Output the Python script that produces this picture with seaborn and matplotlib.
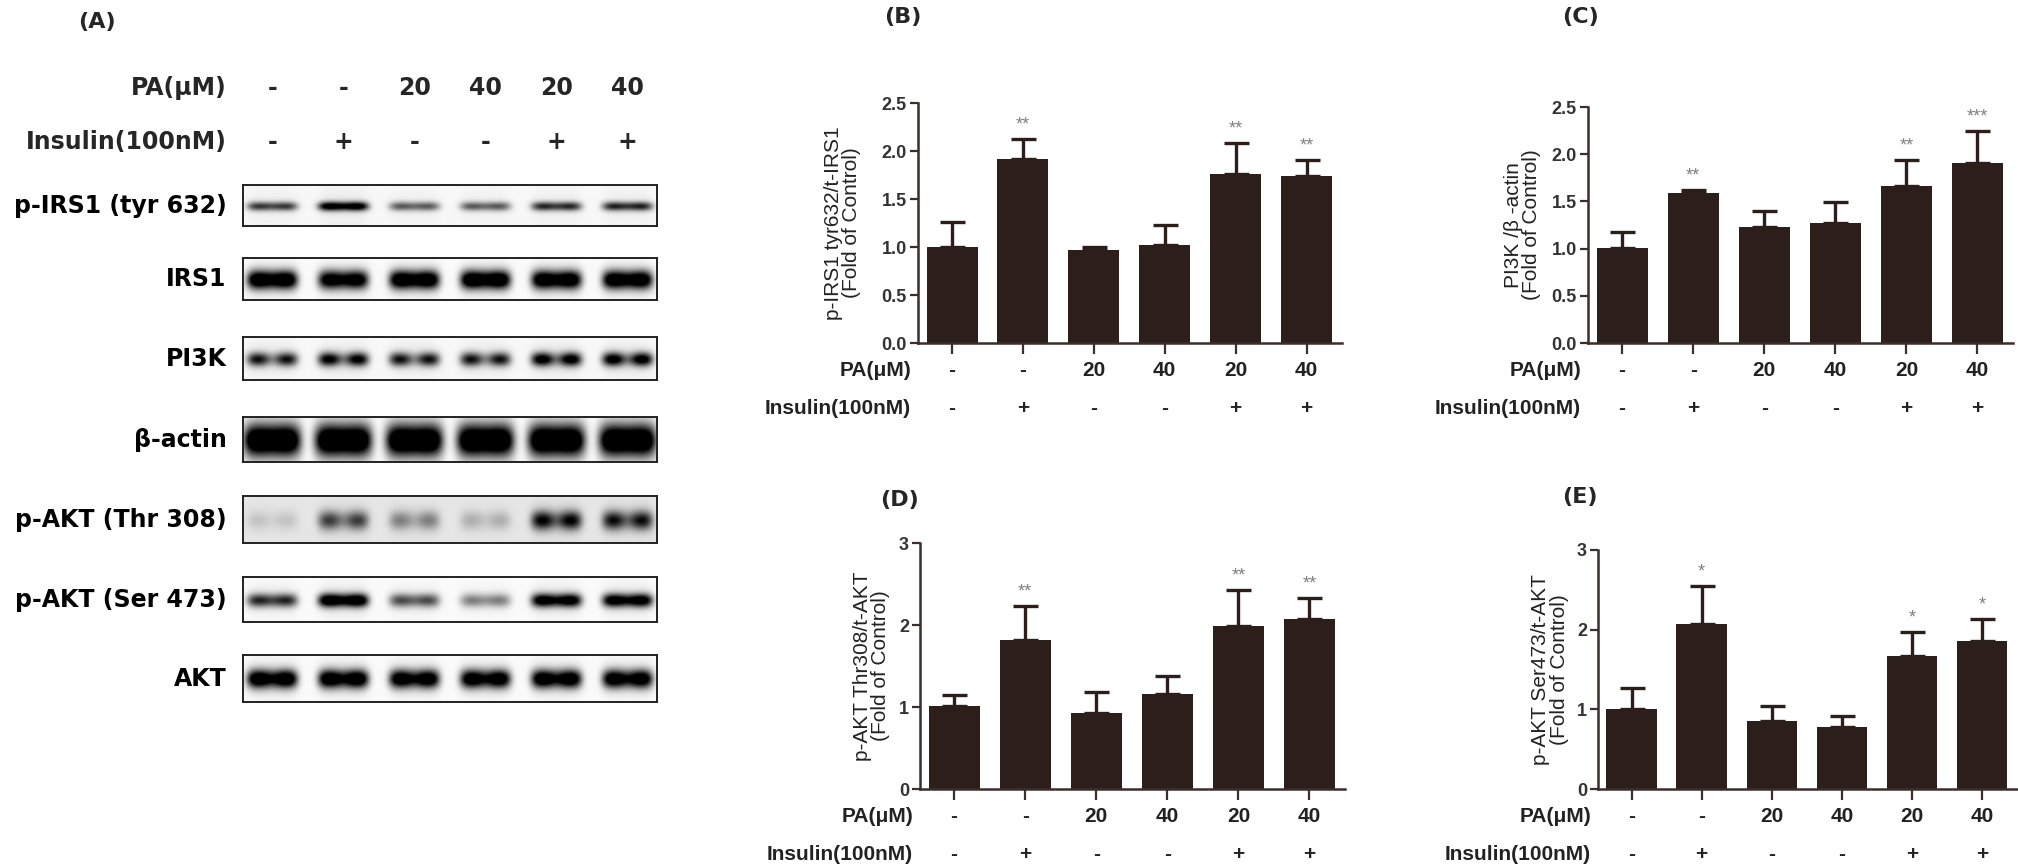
import numpy as np
import matplotlib
matplotlib.use("Agg")
import matplotlib.pyplot as plt
import seaborn as sns

sns.set_style("ticks")
plt.rcParams["font.family"] = ["Liberation Sans", "DejaVu Sans"]

# ---------------- data ----------------
pa_labels = ["-", "-", "20", "40", "20", "40"]
ins_labels = ["-", "+", "-", "-", "+", "+"]
groups = ["ctrl", "ins", "pa20", "pa40", "pa20_ins", "pa40_ins"]

# (B) p-IRS1 tyr632 / t-IRS1
irs_mean = [1.00, 1.92, 0.97, 1.02, 1.76, 1.74]
irs_sem = [0.26, 0.20, 0.03, 0.21, 0.32, 0.17]
irs_sig = ["", "**", "", "", "**", "**"]

# (C) PI3K / beta-actin
pi3k_mean = [1.01, 1.59, 1.23, 1.27, 1.66, 1.91]
pi3k_sem = [0.17, 0.03, 0.17, 0.22, 0.28, 0.34]
pi3k_sig = ["", "**", "", "", "**", "***"]

# (D) p-AKT Thr308 / t-AKT
thr_mean = [1.01, 1.82, 0.93, 1.16, 1.99, 2.07]
thr_sem = [0.14, 0.41, 0.25, 0.22, 0.44, 0.26]
thr_sig = ["", "**", "", "", "**", "**"]

# (E) p-AKT Ser473 / t-AKT
ser_mean = [1.00, 2.07, 0.85, 0.78, 1.67, 1.86]
ser_sem = [0.27, 0.48, 0.19, 0.14, 0.30, 0.27]
ser_sig = ["", "*", "", "", "*", "*"]

# (A) western blot: band darkness per lane
blot_names = ["p-IRS1 (tyr 632)", "IRS1", "PI3K", "β-actin",
              "p-AKT (Thr 308)", "p-AKT (Ser 473)", "AKT"]
blot_int = [
    [0.55, 0.85, 0.45, 0.45, 0.60, 0.62],
    [0.97, 0.88, 0.97, 0.99, 0.95, 0.95],
    [0.70, 0.80, 0.70, 0.70, 0.85, 0.85],
    [1.00, 1.00, 1.00, 1.00, 1.00, 1.00],
    [0.10, 0.50, 0.30, 0.16, 0.70, 0.65],
    [0.62, 0.97, 0.50, 0.35, 0.88, 0.88],
    [0.97, 0.97, 0.93, 0.93, 0.95, 0.93],
]
blot_thick = [0.11, 0.22, 0.16, 0.36, 0.20, 0.15, 0.19]
blot_dip = [0.15, 0.15, 0.55, 0.05, 0.45, 0.2, 0.25]
blot_bg = [0.03, 0.02, 0.03, 0.02, 0.10, 0.02, 0.02]

# ---------------- layout ----------------
W, H = 2018, 868
fig = plt.figure(figsize=(W / 100, H / 100), dpi=100)

def px_axes(l, t, r, b):
    return fig.add_axes([l / W, 1 - b / H, (r - l) / W, (b - t) / H])

bar_color = "#2b1e1b"
axis_color = "#3a2f2c"

# ---------------- (A) blot ----------------
blot_rows = [(185, 226), (258, 300), (337, 380), (417, 462),
             (496, 543), (577, 622), (655, 702)]
lane_lim = (-0.41, 5.41)
xs = np.linspace(lane_lim[0], lane_lim[1], 700)
ys = np.linspace(0, 1, 120)
XX, YY = np.meshgrid(xs, ys)

blot_axes = []
for k, (top, bot) in enumerate(blot_rows):
    ax = px_axes(243, top, 657, bot)
    dark = np.full_like(XX, blot_bg[k])
    hw = 0.40 if blot_names[k] == "β-actin" else 0.35
    for i, v in enumerate(blot_int[k]):
        prof_x = np.exp(-((XX - i) / hw) ** 6)
        prof_x = prof_x * (1 - blot_dip[k] * np.exp(-((XX - i) / 0.13) ** 2))
        prof_y = np.exp(-((YY - 0.52) / blot_thick[k]) ** 2)
        halo = np.exp(-((XX - i) / 0.33) ** 6) * np.exp(-((YY - 0.52) / 0.45) ** 2)
        dark = dark + v * prof_x * prof_y * 1.4 + 0.06 * v * halo
    img = 1 - np.clip(dark, 0, 1)
    ax.imshow(img, cmap="gray", vmin=0, vmax=1, aspect="auto",
              extent=(lane_lim[0], lane_lim[1], 0, 1), interpolation="bilinear")
    ax.set_xlim(*lane_lim)
    ax.set_ylim(0, 1)
    ax.set_xticks([])
    ax.set_yticks([])
    for s in ax.spines.values():
        s.set_linewidth(1.4)
        s.set_color("#222222")
    ax.text(-0.04, 0.5, blot_names[k], transform=ax.transAxes, ha="right",
            va="center", fontsize=17, fontweight="bold", family="DejaVu Sans",
            color="black")
    blot_axes.append(ax)

top_ax = blot_axes[0]
for i in range(6):
    top_ax.annotate(pa_labels[i], xy=(i, 1), xycoords=top_ax.get_xaxis_transform(),
                    xytext=(0, 97 * 0.72), textcoords="offset points",
                    ha="center", va="center", fontsize=17, fontweight="bold",
                    family="DejaVu Sans")
    top_ax.annotate(ins_labels[i], xy=(i, 1), xycoords=top_ax.get_xaxis_transform(),
                    xytext=(0, 43 * 0.72), textcoords="offset points",
                    ha="center", va="center", fontsize=17, fontweight="bold",
                    family="DejaVu Sans")
top_ax.text(-0.04, 1 + 97 / 41, "PA(μM)", transform=top_ax.transAxes, ha="right",
            va="center", fontsize=17, fontweight="bold", family="DejaVu Sans")
top_ax.text(-0.04, 1 + 43 / 41, "Insulin(100nM)", transform=top_ax.transAxes,
            ha="right", va="center", fontsize=17, fontweight="bold",
            family="DejaVu Sans")

# ---------------- bar panels ----------------
def bar_panel(box, means, sems, sig, ylabel, ymax, step, fmt, label_x):
    ax = px_axes(*box)
    sns.barplot(x=groups, y=means, order=groups, ax=ax, color=bar_color,
                saturation=1, width=0.72, linewidth=0)
    ax.errorbar(range(6), means, yerr=[np.zeros(6), sems], fmt="none",
                ecolor=bar_color, elinewidth=2.4, capsize=9, capthick=2.4)
    ax.set_xlim(-0.48, 5.5)
    ax.set_ylim(0, ymax)
    ticks = np.arange(0, ymax + step / 2, step)
    ax.set_yticks(ticks)
    ax.set_yticklabels([fmt.format(v) for v in ticks],
                       fontsize=13, fontweight="bold", color="#333333")
    ax.set_xticks(range(6))
    ax.set_xticklabels([""] * 6)
    ax.tick_params(axis="y", length=6, width=1.6, color=axis_color, pad=2)
    ax.tick_params(axis="x", length=8, width=1.6, color=axis_color)
    sns.despine(ax=ax)
    for s in ["left", "bottom"]:
        ax.spines[s].set_linewidth(1.8)
        ax.spines[s].set_color(axis_color)
    ax.set_ylabel(ylabel + "\n(Fold of Control)", fontsize=15,
                  linespacing=0.95, color="#222222")
    ax.yaxis.set_label_coords(label_x, 0.5)
    for i in range(6):
        if sig[i]:
            ax.annotate(sig[i], xy=(i, means[i] + sems[i]), xytext=(0, 4),
                        textcoords="offset points", ha="center", va="bottom",
                        fontsize=13, color="#808080")
        ax.annotate(pa_labels[i], xy=(i, 0), xycoords=ax.get_xaxis_transform(),
                    xytext=(0, -27 * 0.72), textcoords="offset points",
                    ha="center", va="center", fontsize=15, fontweight="bold",
                    color="#222222")
        ax.annotate(ins_labels[i], xy=(i, 0), xycoords=ax.get_xaxis_transform(),
                    xytext=(0, -65 * 0.72), textcoords="offset points",
                    ha="center", va="center", fontsize=15, fontweight="bold",
                    color="#222222")
    ax.annotate("PA(μM)", xy=(0, 0), xycoords="axes fraction",
                xytext=(-5, -27 * 0.72), textcoords="offset points",
                ha="right", va="center", fontsize=15, fontweight="bold",
                color="#222222")
    ax.annotate("Insulin(100nM)", xy=(0, 0), xycoords="axes fraction",
                xytext=(-5, -65 * 0.72), textcoords="offset points",
                ha="right", va="center", fontsize=15, fontweight="bold",
                color="#222222")
    return ax

bar_panel((918, 103, 1342, 343), irs_mean, irs_sem, irs_sig,
          "p-IRS1 tyr632/t-IRS1", 2.5, 0.5, "{:.1f}", -0.135)
bar_panel((1588, 107, 2013, 343), pi3k_mean, pi3k_sem, pi3k_sig,
          "PI3K /β -actin", 2.5, 0.5, "{:.1f}", -0.11)
bar_panel((920, 543, 1345, 789), thr_mean, thr_sem, thr_sig,
          "p-AKT Thr308/t-AKT", 3, 1, "{:.0f}", -0.07)
bar_panel((1598, 550, 2017, 789), ser_mean, ser_sem, ser_sig,
          "p-AKT Ser473/t-AKT", 3, 1, "{:.0f}", -0.07)

# panel letters
for txt, x, y in [("(A)", 97, 22), ("(B)", 903, 17), ("(C)", 1580, 17),
                  ("(D)", 900, 500), ("(E)", 1580, 497)]:
    fig.text(x / W, 1 - y / H, txt, ha="center", va="center", fontsize=16,
             fontweight="bold", family="DejaVu Sans")

fig.savefig("out.png", dpi=100, facecolor="white")
